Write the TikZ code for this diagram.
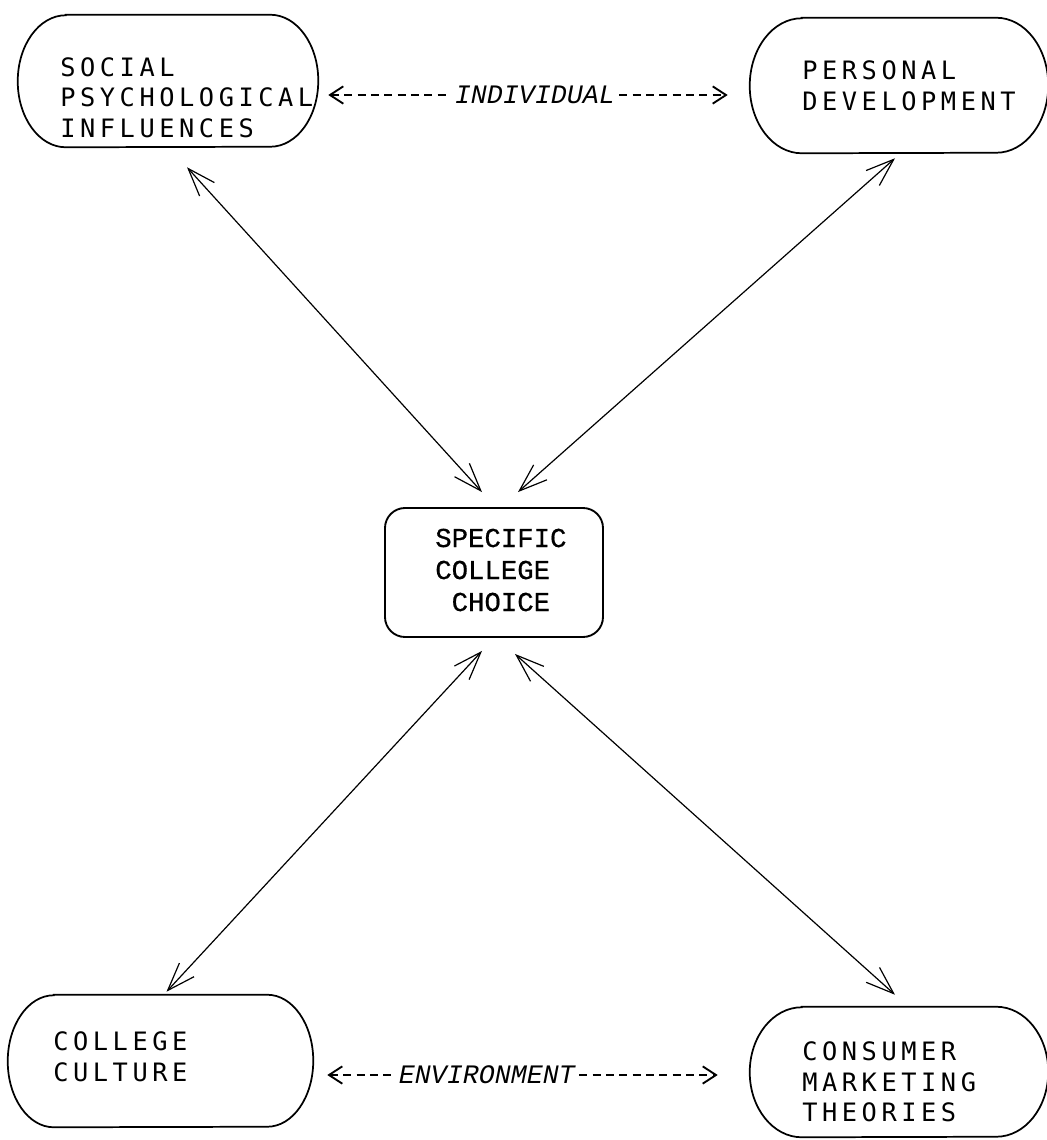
\documentclass[tikz,border=0pt]{standalone}
\usepackage{fontspec}
\usepackage{tikz}
\usetikzlibrary{arrows.meta}
\newfontfamily\boxfont[LetterSpace=18]{DejaVu Sans Mono}
\newfontfamily\choicefont[FakeBold=0.6]{Liberation Mono}
\newfontfamily\linkfont{Liberation Mono}

\begin{document}
\begin{tikzpicture}[x=0.75pt,y=0.75pt,yscale=-1,xscale=1,
  outerbox/.style={rectangle,inner sep=0pt},
  outline/.style={line width=1.3pt},
  choicebox/.style={draw,line width=1.4pt,rounded corners=15pt,inner sep=0pt,minimum width=163.5pt,minimum height=96.75pt},
  boxtext/.style={anchor=west,inner sep=0pt,align=left,font=\boxfont\fontsize{19}{23}\selectfont},
  choicetext/.style={anchor=west,inner sep=0pt,align=left,font=\choicefont\fontsize{20.5}{24}\selectfont},
  linktext/.style={inner sep=3pt,font=\linkfont\itshape\fontsize{20}{24}\selectfont},
  openvee/.tip={Straight Barb[length=21pt,width=15pt]},
  smallvee/.tip={Straight Barb[length=10pt,width=13pt,line width=1.4pt]},
  twoway/.style={openvee-openvee,line width=0.9pt},
  dashlink/.style={line width=1pt,dash pattern=on 6pt off 4pt,>=smallvee}
]
\useasboundingbox (0,0) rectangle (1047,1140);

%Shapes
\node [outerbox,minimum width=225pt,minimum height=99pt] (soc) at (168,81) {};
\node [outerbox,minimum width=223.5pt,minimum height=101.25pt] (pers) at (899,85.5) {};
\node [outerbox,minimum width=228.75pt,minimum height=99pt] (cult) at (160.5,1061) {};
\node [outerbox,minimum width=223.5pt,minimum height=97.5pt] (cons) at (899,1072) {};
\node [choicebox] (choice) at (494,572.5) {};

%Outlines with elliptic ends
\foreach \n/\a/\b in {soc/48/66, pers/52/67.5, cult/46/66, cons/52/65}
  \draw [outline] ([shift={(\a,0)}]\n.north west) -- ([shift={(-\a,0)}]\n.north east)
    arc [start angle=-90, end angle=90, x radius=\a, y radius=\b]
    -- ([shift={(\a,0)}]\n.south west)
    arc [start angle=90, end angle=270, x radius=\a, y radius=\b] -- cycle;

% Text Node
\node [boxtext] (soctext) at (60,97.5) {SOCIAL\\PSYCHOLOGICAL\\INFLUENCES};
% Text Node
\node [boxtext] (perstext) at (802,86) {PERSONAL\\DEVELOPMENT};
% Text Node
\node [boxtext] (culttext) at (53,1057) {COLLEGE\\CULTURE};
% Text Node
\node [boxtext] (constext) at (802,1082) {CONSUMER\\MARKETING\\THEORIES};
% Text Node
\node [choicetext] (choicetext) at (435,570) {SPECIFIC\\COLLEGE\\\hspace*{0.6em}CHOICE};
% Text Node
\node [linktext] (indiv) at (535,95) {INDIVIDUAL};
% Text Node
\node [linktext] (envir) at (487,1075) {ENVIRONMENT};

%Straight Lines
\draw [twoway] ([shift={(19,20)}]soc.south) -- ([shift={(-12,-15)}]choice.north);
\draw [twoway] ([shift={(-4,5)}]pers.south) -- ([shift={(24,-15)}]choice.north);
\draw [twoway] ([shift={(6,-3)}]cult.north) -- ([shift={(-12,13)}]choice.south);
\draw [twoway] ([shift={(-4,-12)}]cons.north) -- ([shift={(21,16)}]choice.south);

%Dashed Lines
\draw [dashlink,<-,shorten <=7.5pt] (soc.east |- indiv.west) -- (indiv.west);
\draw [dashlink,->,shorten >=16.5pt] (indiv.east) -- (pers.west |- indiv.east);
\draw [dashlink,<-,shorten <=10.5pt] (cult.east |- envir.west) -- (envir.west);
\draw [dashlink,->,shorten >=24pt] (envir.east) -- (cons.west |- envir.east);

\end{tikzpicture}
\end{document}
